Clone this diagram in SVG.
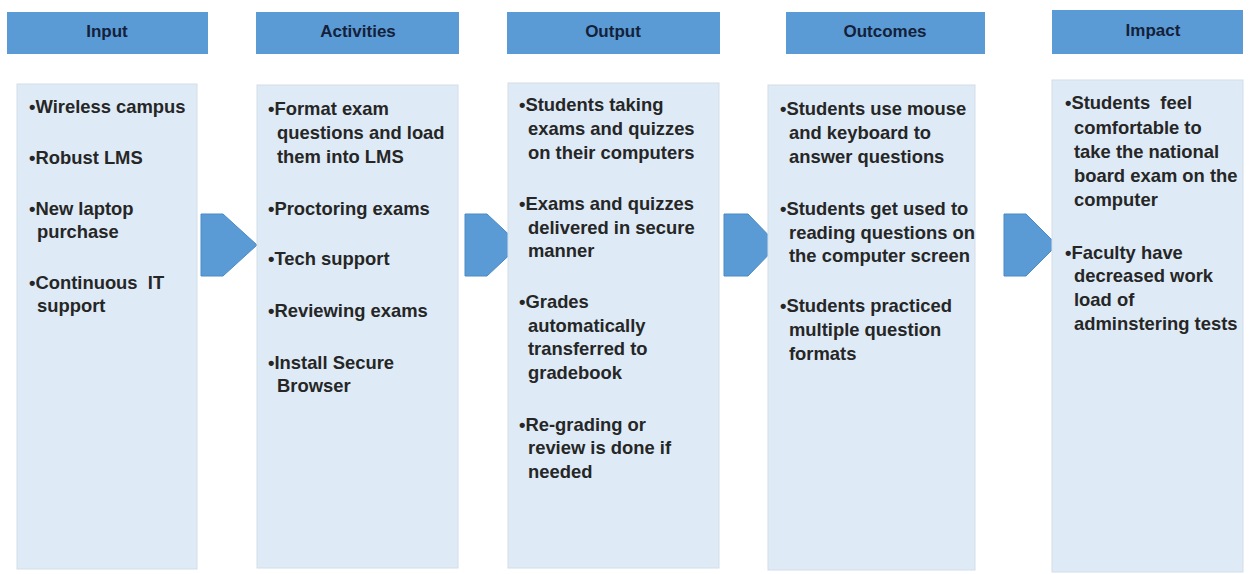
<svg xmlns="http://www.w3.org/2000/svg" width="1252" height="574" viewBox="0 0 1252 574">
<style>
.hdr{fill:#5b9bd5}
.body{fill:#deebf7;stroke:#d3dde8;stroke-width:1}
.arr{fill:#5b9bd5;stroke:#4a8ac6;stroke-width:1}
.ht{font-family:"Liberation Sans",Arial,sans-serif;font-weight:bold;font-size:17px;fill:#14213a;text-anchor:middle}
.t{font-family:"Liberation Sans",Arial,sans-serif;font-weight:bold;font-size:18.4px;fill:#262626;white-space:pre}
</style>
<rect width="1252" height="574" fill="#ffffff"/>
<g id="connectors">
<polygon class="arr" points="201,214 223,214 257,245 223,276 201,276"/>
<polygon class="arr" points="465,214 487,214 520,245 487,276 465,276"/>
<polygon class="arr" points="724,214 748,214 778,245 748,276 724,276"/>
<polygon class="arr" points="1004,214 1026,214 1057,245 1026,276 1004,276"/>
</g>
<g id="input">
<rect class="hdr" x="7" y="12" width="201" height="42"/>
<text class="ht" x="107" y="37">Input</text>
<rect class="body" x="17" y="84" width="180" height="485"/>
<text class="t" xml:space="preserve"><tspan x="29" y="113">•Wireless campus</tspan><tspan x="29" y="164">•Robust LMS</tspan><tspan x="29" y="215">•New laptop</tspan><tspan x="37" y="238">purchase</tspan><tspan x="29" y="289">•Continuous  IT</tspan><tspan x="37" y="312">support</tspan></text>
</g>
<g id="activities">
<rect class="hdr" x="256" y="12" width="203" height="42"/>
<text class="ht" x="358" y="37">Activities</text>
<rect class="body" x="257" y="85" width="201" height="483"/>
<text class="t"><tspan x="268" y="115">•Format exam</tspan><tspan x="277" y="139">questions and load</tspan><tspan x="277" y="163">them into LMS</tspan><tspan x="268" y="215">•Proctoring exams</tspan><tspan x="268" y="265">•Tech support</tspan><tspan x="268" y="317">•Reviewing exams</tspan><tspan x="268" y="369">•Install Secure</tspan><tspan x="277" y="392">Browser</tspan></text>
</g>
<g id="output">
<rect class="hdr" x="507" y="12" width="213" height="42"/>
<text class="ht" x="613" y="37">Output</text>
<rect class="body" x="508" y="83" width="211" height="485"/>
<text class="t"><tspan x="519" y="111">•Students taking</tspan><tspan x="528" y="135">exams and quizzes</tspan><tspan x="528" y="159">on their computers</tspan><tspan x="519" y="210">•Exams and quizzes</tspan><tspan x="528" y="234">delivered in secure</tspan><tspan x="528" y="257">manner</tspan><tspan x="519" y="308">•Grades</tspan><tspan x="528" y="332">automatically</tspan><tspan x="528" y="355">transferred to</tspan><tspan x="528" y="379">gradebook</tspan><tspan x="519" y="431">•Re-grading or</tspan><tspan x="528" y="454">review is done if</tspan><tspan x="528" y="478">needed</tspan></text>
</g>
<g id="outcomes">
<rect class="hdr" x="786" y="12" width="199" height="42"/>
<text class="ht" x="885" y="37">Outcomes</text>
<rect class="body" x="768" y="85" width="207" height="485"/>
<text class="t"><tspan x="780" y="115">•Students use mouse</tspan><tspan x="789" y="139">and keyboard to</tspan><tspan x="789" y="163">answer questions</tspan><tspan x="780" y="215">•Students get used to</tspan><tspan x="789" y="239">reading questions on</tspan><tspan x="789" y="262">the computer screen</tspan><tspan x="780" y="312">•Students practiced</tspan><tspan x="789" y="336">multiple question</tspan><tspan x="789" y="360">formats</tspan></text>
</g>
<g id="impact">
<rect class="hdr" x="1052" y="10" width="191" height="44"/>
<text class="ht" x="1153" y="36">Impact</text>
<rect class="body" x="1052" y="80" width="191" height="492"/>
<text class="t" xml:space="preserve"><tspan x="1065" y="109">•Students  feel</tspan><tspan x="1074" y="134">comfortable to</tspan><tspan x="1074" y="158">take the national</tspan><tspan x="1074" y="182">board exam on the</tspan><tspan x="1074" y="206">computer</tspan><tspan x="1065" y="259">•Faculty have</tspan><tspan x="1074" y="282">decreased work</tspan><tspan x="1074" y="306">load of</tspan><tspan x="1074" y="330">adminstering tests</tspan></text>
</g>
</svg>
